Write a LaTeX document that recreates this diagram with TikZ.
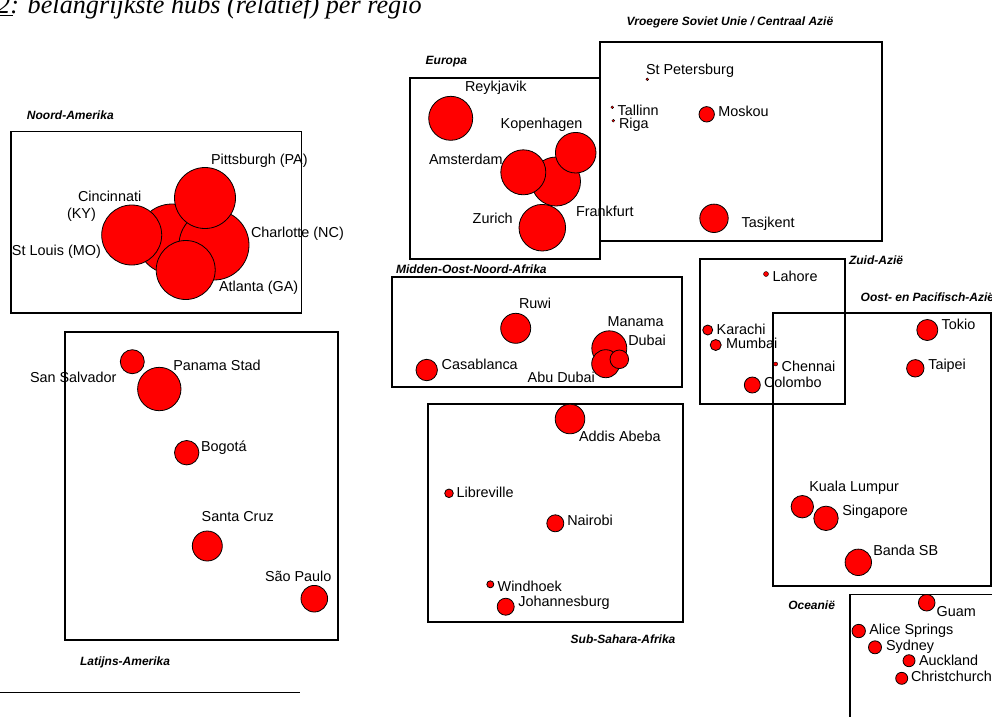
\documentclass[tikz,border=0pt]{standalone}
\usepackage{fontspec}
\setmainfont{Liberation Sans}
\newfontfamily\serifit{Liberation Serif}
\tikzset{
  hub/.style={circle, draw=black, fill=red, line width=0.8pt, inner sep=0pt, outer sep=0pt},
  tinyhub/.style={hub, line width=0.4pt},
  lab/.style={anchor=base west, inner sep=0pt, outer sep=0pt, font=\fontsize{14.4}{16}\selectfont},
  region/.style={anchor=base west, inner sep=0pt, outer sep=0pt, font=\bfseries\itshape\fontsize{12}{14}\selectfont},
  frame/.style={draw=black, line width=1.6pt},
}
\newcommand{\hub}[4]{\node[hub, minimum size=2*#4pt] (#1) at (#2,#3) {};}
\newcommand{\tinyhubat}[4]{\node[tinyhub, minimum size=2*#4pt] (#1) at (#2,#3) {};}
\newcommand{\lab}[4]{\node[lab] (#1) at (#2,#3+5.2) {#4};}
\newcommand{\regionlab}[4]{\node[region] (#1) at (#2,#3+4.3) {#4};}
\begin{document}
\begin{tikzpicture}[x=1pt,y=-1pt]
\useasboundingbox (0,0) rectangle (992,716);
\begin{scope}
\clip (0,0) rectangle (992,716);

% title
\node[anchor=base west, inner sep=0pt, font=\serifit\itshape\fontsize{26.2}{28}\selectfont] (title) at (-3,13.5) {2: belangrijkste hubs (relatief) per regio};
\draw[line width=1.3pt] (0,15.6) -- (13,15.6);

% frames
\draw[frame] (11,131.5) rectangle (301.5,313);
\draw[frame] (410,78) rectangle (600,259);
\draw[frame] (600,42) rectangle (882,241);
\draw[frame] (392,277) rectangle (682,387);
\draw[frame] (700,259) rectangle (845,404);
\draw[frame] (773,313) rectangle (991,586);
\draw[frame] (65,332) rectangle (338,640);
\draw[frame] (428,404) rectangle (683,622);
\draw[frame] (850,594.5) rectangle (1010,780);

% region titles
\regionlab{rNA}{27}{115}{Noord-Amerika}
\regionlab{rEU}{425.7}{60}{Europa}
\regionlab{rFSU}{626.7}{20.7}{Vroegere Soviet Unie / Centraal Azië}
\regionlab{rMENA}{396}{269}{Midden-Oost-Noord-Afrika}
\regionlab{rSA}{849}{260}{Zuid-Azië}
\regionlab{rEA}{860.7}{296.7}{Oost- en Pacifisch-Azië}
\regionlab{rLA}{80}{660.7}{Latijns-Amerika}
\regionlab{rSSA}{570.7}{639.3}{Sub-Sahara-Afrika}
\regionlab{rOC}{788.3}{604.7}{Oceanië}

% Noord-Amerika
\hub{naMid}{172}{239}{35}
\hub{charlotte}{214}{245}{35}
\hub{cincinnati}{131.7}{235}{30}
\hub{pittsburgh}{205}{198}{30.5}
\hub{atlanta}{185.7}{270}{29.5}
\lab{lPitt}{211}{159}{Pittsburgh (PA)}
\lab{lCinc}{78}{196}{Cincinnati}
\lab{lKY}{67}{213}{(KY)}
\lab{lStL}{12}{250}{St Louis (MO)}
\lab{lChar}{251}{232}{Charlotte (NC)}
\lab{lAtl}{219}{286}{Atlanta (GA)}

% Europa
\hub{reykjavik}{450.7}{118.3}{22}
\hub{frankfurt}{556}{181.5}{24.5}
\hub{amsterdam}{523.3}{172.3}{22.5}
\hub{kopenhagen}{575.7}{152.7}{20.3}
\hub{zurich}{542.3}{227.7}{23.3}
\lab{lReyk}{465}{86}{Reykjavik}
\lab{lKop}{500.7}{123.3}{Kopenhagen}
\lab{lAms}{429}{159.3}{Amsterdam}
\lab{lFra}{576}{211.7}{Frankfurt}
\lab{lZur}{472.7}{218.3}{Zurich}

% Vroegere Soviet Unie
\tinyhubat{stpete}{647.3}{79.3}{1.4}
\tinyhubat{tallinn}{612.3}{107.3}{1.4}
\tinyhubat{riga}{613.3}{120.7}{1.4}
\hub{moskou}{706.7}{114.3}{7.7}
\hub{tasjkent}{714}{218.3}{14.2}
\lab{lStP}{646}{69}{St Petersburg}
\lab{lTal}{617.7}{110}{Tallinn}
\lab{lRiga}{619}{123}{Riga}
\lab{lMos}{718.3}{111.7}{Moskou}
\lab{lTas}{741.7}{222.7}{Tasjkent}

% Midden-Oosten
\hub{ruwi}{515.7}{328.3}{15}
\hub{casablanca}{426.7}{370}{10.7}
\hub{manama}{609.3}{348.3}{17.5}
\hub{abudubai}{605.7}{363.7}{14}
\hub{dubai}{619.3}{359.3}{9.3}
\lab{lRuwi}{519}{303.7}{Ruwi}
\lab{lCasa}{441.7}{364.3}{Casablanca}
\lab{lMan}{607.7}{321}{Manama}
\lab{lAbu}{527.7}{377.3}{Abu Dubai}
\lab{lDub}{628.3}{340}{Dubai}

% Zuid-Azie
\tinyhubat{lahore}{766}{274}{2.5}
\hub{karachi}{707.7}{330}{5}
\hub{mumbai}{715.7}{345}{5.5}
\tinyhubat{chennai}{775.7}{364}{2}
\hub{colombo}{752.3}{385}{8}
\lab{lLah}{772.7}{276}{Lahore}
\lab{lKar}{716.7}{329.3}{Karachi}
\lab{lMum}{726}{343.3}{Mumbai}
\lab{lChe}{781.7}{366.7}{Chennai}
\lab{lCol}{764}{382.3}{Colombo}

% Oost-Azie
\hub{tokio}{927.3}{330}{10.5}
\hub{taipei}{915.3}{368.3}{8.7}
\hub{kuala}{802.3}{506.7}{11.2}
\hub{singapore}{826}{518.3}{12.2}
\hub{banda}{858.3}{562.3}{13.2}
\lab{lTok}{941.7}{324}{Tokio}
\lab{lTai}{928.3}{364.3}{Taipei}
\lab{lKua}{809.3}{486}{Kuala Lumpur}
\lab{lSin}{842.3}{510}{Singapore}
\lab{lBan}{873.3}{550}{Banda SB}

% Oceanie
\hub{guam}{926.7}{602.7}{8.3}
\hub{alice}{858.7}{631}{6.7}
\hub{sydney}{875}{647.3}{6.5}
\hub{auckland}{909}{660.7}{6}
\hub{christchurch}{901.7}{678.3}{6}
\lab{lGuam}{936.7}{611}{Guam}
\lab{lAli}{869.3}{629.3}{Alice Springs}
\lab{lSyd}{886}{645}{Sydney}
\lab{lAuc}{919}{660}{Auckland}
\lab{lChr}{911}{676.7}{Christchurch}

% Latijns-Amerika
\hub{sansalvador}{132.3}{361.7}{12}
\hub{panama}{159.3}{389}{21.7}
\hub{bogota}{186.7}{452.7}{12.2}
\hub{santacruz}{207.3}{546}{15}
\hub{saopaulo}{314.3}{598.7}{13.3}
\lab{lSS}{30}{377.3}{San Salvador}
\lab{lPan}{173.3}{365}{Panama Stad}
\lab{lBog}{201}{446}{Bogotá}
\lab{lSC}{201.7}{516}{Santa Cruz}
\lab{lSP}{265}{576}{São Paulo}

% Sub-Sahara-Afrika
\hub{addis}{570}{419}{14.8}
\hub{libreville}{449}{493.3}{4.3}
\hub{nairobi}{555.3}{523.3}{8.5}
\hub{windhoek}{490.3}{584.3}{3.5}
\hub{johannesburg}{505.7}{606.7}{8.5}
\lab{lAdd}{579}{436}{Addis Abeba}
\lab{lLib}{456.7}{492.7}{Libreville}
\lab{lNai}{567.3}{520}{Nairobi}
\lab{lWin}{497.7}{586}{Windhoek}
\lab{lJoh}{518.3}{601.7}{Johannesburg}

% footnote rule
\coordinate (ruleL) at (0,692.7);
\coordinate (ruleR) at (300,692.7);
\draw[line width=1.3pt] (ruleL) -- (ruleR);
\end{scope}
\end{tikzpicture}
\end{document}
